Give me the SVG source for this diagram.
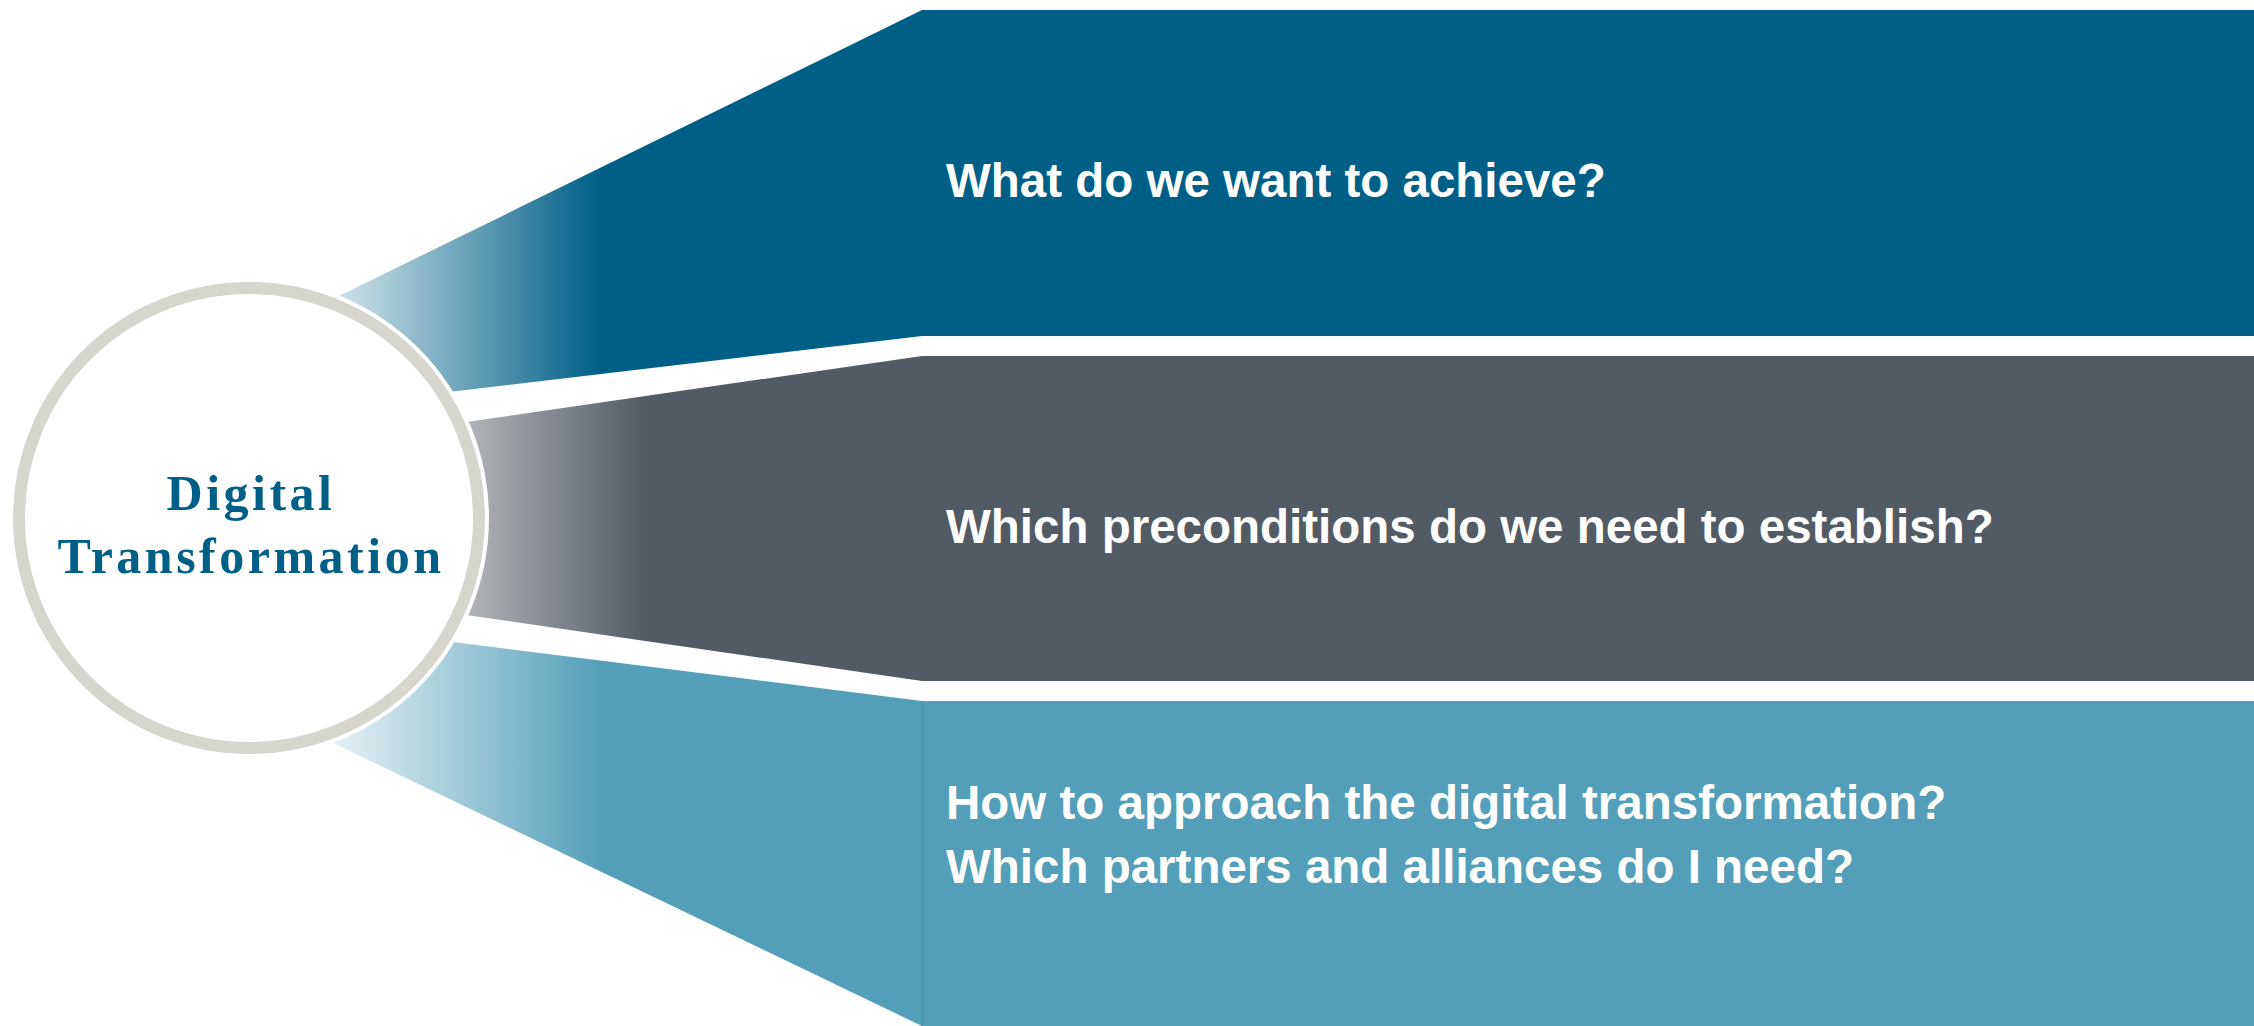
<svg xmlns="http://www.w3.org/2000/svg" width="2254" height="1026" viewBox="0 0 2254 1026">
  <style>
    .q { font-family: "Liberation Sans", Arial, sans-serif; font-weight: bold; font-size: 47.5px; fill: #ffffff; }
    .c { font-family: "Liberation Serif", "Times New Roman", serif; font-weight: bold; font-size: 50px; fill: #005f87; letter-spacing: 3.5px; text-anchor: middle; }
  </style>
  <defs>
    <linearGradient id="gTop" gradientUnits="userSpaceOnUse" x1="337" y1="0" x2="600" y2="0">
      <stop offset="0" stop-color="#d0e3ea"/>
      <stop offset="1" stop-color="#005f87"/>
    </linearGradient>
    <linearGradient id="gMid" gradientUnits="userSpaceOnUse" x1="466" y1="0" x2="645" y2="0">
      <stop offset="0" stop-color="#b2b5b9"/>
      <stop offset="1" stop-color="#525a64"/>
    </linearGradient>
    <linearGradient id="gBot" gradientUnits="userSpaceOnUse" x1="333" y1="0" x2="600" y2="0">
      <stop offset="0" stop-color="#e6f1f5"/>
      <stop offset="1" stop-color="#539fb9"/>
    </linearGradient>
  </defs>
  <rect x="0" y="0" width="2254" height="1026" fill="#ffffff"/>
  <g id="band-top">
    <polygon points="337,297 922,10 2254,10 2254,336 922,336 449,392" fill="url(#gTop)"/>
    <text class="q" x="946" y="197">What do we want to achieve?</text>
  </g>
  <g id="band-middle">
    <polygon points="466,422 922,356 2254,356 2254,681 922,681 466,615" fill="url(#gMid)"/>
    <text class="q" x="946" y="543">Which preconditions do we need to establish?</text>
  </g>
  <g id="band-bottom">
    <polygon points="453,642 922,701 2254,701 2254,1026 922,1026 333,743" fill="url(#gBot)"/>
    <line x1="922.5" y1="701" x2="922.5" y2="1026" stroke="#4a93ad" stroke-width="1.5"/>
    <text class="q" x="946" y="819">How to approach the digital transformation?</text>
    <text class="q" x="946" y="883">Which partners and alliances do I need?</text>
  </g>
  <g id="connectors"/>
  <g id="center">
    <circle cx="249" cy="518" r="240" fill="#ffffff"/>
    <circle cx="249" cy="518" r="230" fill="#ffffff" stroke="#d6d6ce" stroke-width="12"/>
    <text class="c" x="251" y="510">Digital</text>
    <text class="c" x="251" y="573">Transformation</text>
  </g>
</svg>
